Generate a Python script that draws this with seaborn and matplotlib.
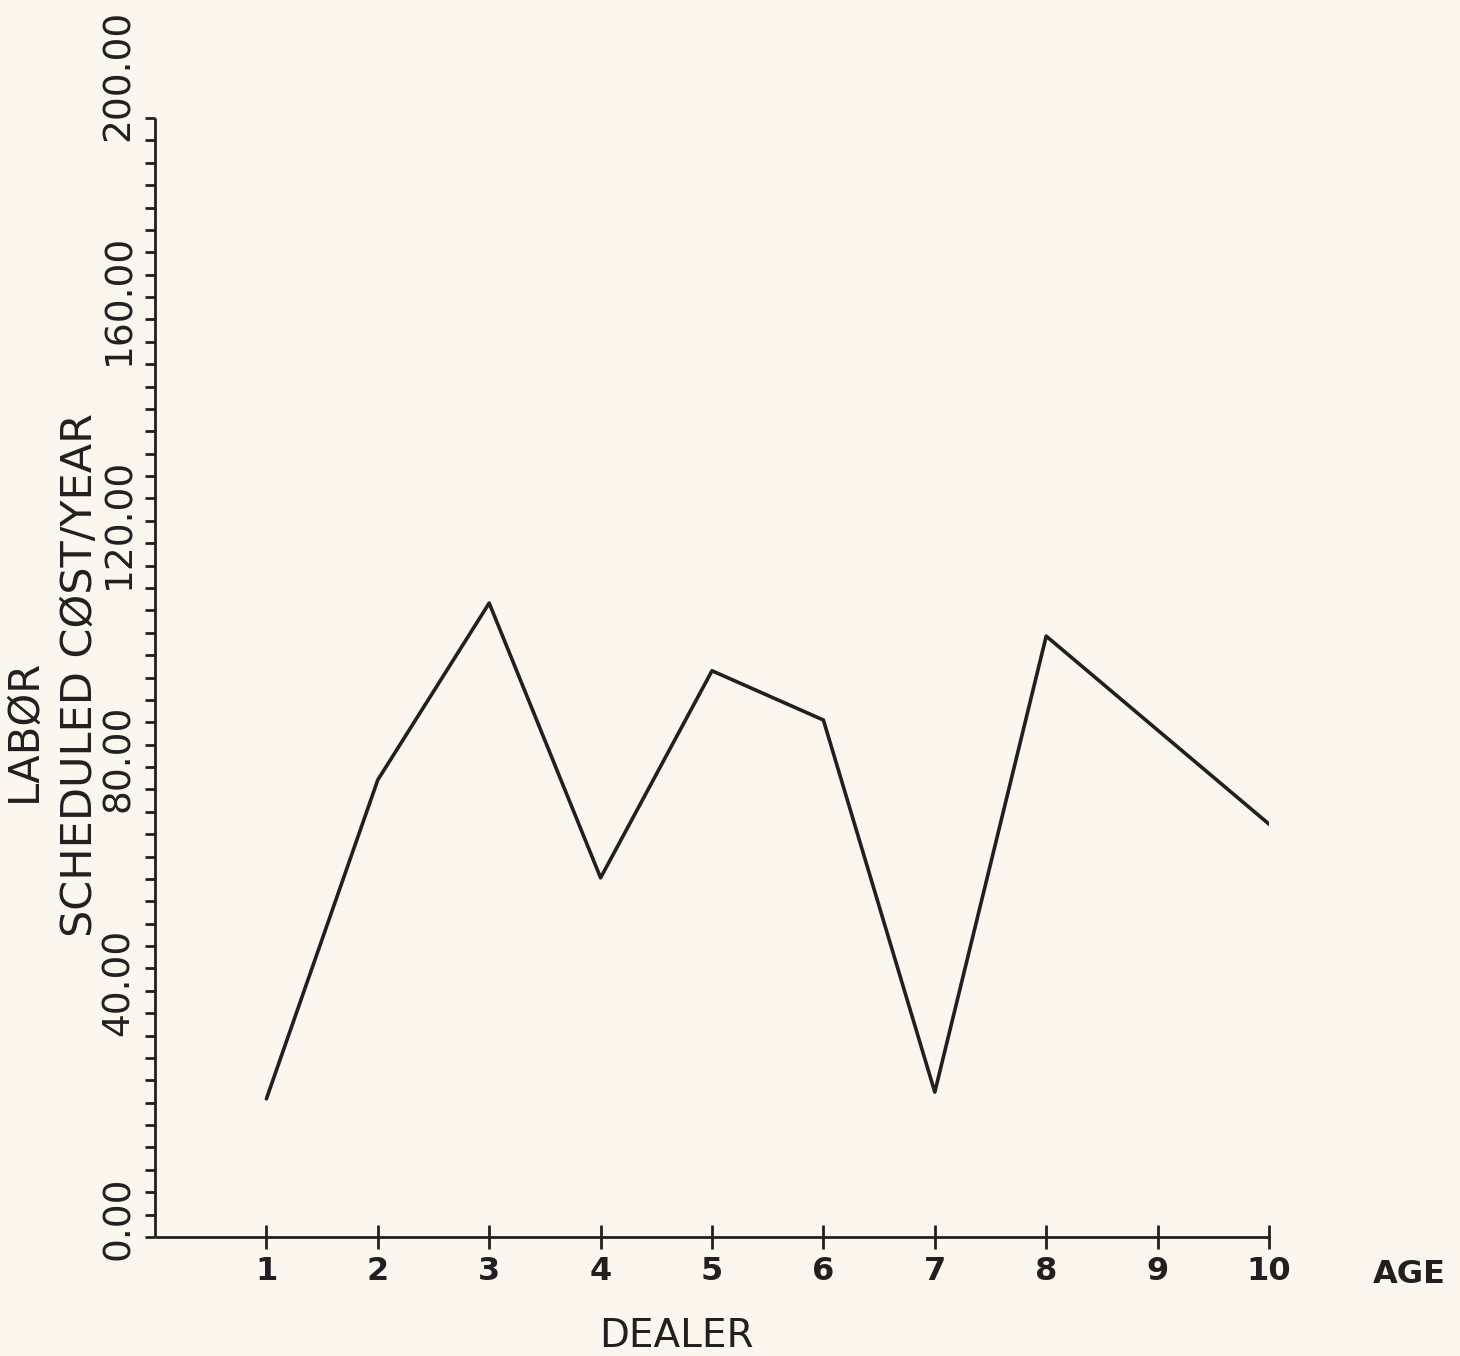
import matplotlib
matplotlib.use("Agg")
import matplotlib.pyplot as plt
import matplotlib.transforms as mtransforms
import seaborn as sns
import numpy as np

# ---- data ----
ages = [1, 2, 3, 4, 5, 6, 7, 8, 9, 10]
cost = [24.7, 81.7, 113.3, 64.2, 101.2, 92.4, 25.9, 107.4, 90.6, 73.8]
x_tick_labels = ["1", "2", "3", "4", "5", "6", "7", "8", "9", "10"]
y_major = [0, 40, 80, 120, 160, 200]
y_tick_labels = ["0.00", "40.00", "80.00", "120.00", "160.00", "200.00"]
y_minor = list(range(0, 201, 4))

BG = "#fbf6ee"
INK = "#231f20"

sns.set_theme(style="ticks")
plt.rcParams["font.family"] = ["DejaVu Sans"]
plt.rcParams["text.color"] = INK
plt.rcParams["axes.edgecolor"] = INK
plt.rcParams["xtick.color"] = INK
plt.rcParams["ytick.color"] = INK

W, H = 1460, 1356
fig = plt.figure(figsize=(W / 100, H / 100), dpi=100, facecolor=BG)
x0, x1, ytop, ybot = 155, 1269, 118, 1237
ax = fig.add_axes([x0 / W, (H - ybot) / H, (x1 - x0) / W, (ybot - ytop) / H])
ax.set_facecolor(BG)

sns.lineplot(x=ages, y=cost, ax=ax, color=INK, linewidth=2.6, estimator=None)

ax.set_xlim(0, 10)
ax.set_ylim(0, 200)
for s in ["top", "right"]:
    ax.spines[s].set_visible(False)
for s in ["left", "bottom"]:
    ax.spines[s].set_linewidth(2.0)
    ax.spines[s].set_capstyle("butt")

# x axis
ax.set_xticks(ages)
ax.set_xticklabels(x_tick_labels)
ax.tick_params(axis="x", direction="inout", length=17, width=2.0, pad=5,
               labelsize=23)
for lab in ax.get_xticklabels():
    lab.set_fontweight("bold")

# y axis
ax.set_yticks(y_major)
ax.set_yticks(y_minor, minor=True)
ax.tick_params(axis="y", which="both", direction="out", length=7.5, width=2.0,
               labelleft=False)

off = mtransforms.ScaledTranslation(-18 / 100, -23 / 100, fig.dpi_scale_trans)
btrans = mtransforms.blended_transform_factory(ax.transAxes, ax.transData)
for v, lab in zip(y_major, y_tick_labels):
    ax.text(0, v, lab, transform=btrans + off, rotation=90, ha="right",
            va="bottom", fontsize=27, color=INK, clip_on=False)

# axis labels
ax.set_ylabel("SCHEDULED CØST/YEAR", fontsize=31, va="center", color=INK)
ax.yaxis.set_label_coords((80 - x0) / (x1 - x0), (ybot - 675) / (ybot - ytop))
ax.text((24 - x0) / (x1 - x0), (ybot - 730) / (ybot - ytop), "LABØR",
        transform=ax.transAxes, rotation=90, ha="center", va="center",
        fontsize=30, color=INK, clip_on=False)

ax.set_xlabel("DEALER", fontsize=28, va="baseline", color=INK)
ax.xaxis.set_label_coords((676 - x0) / (x1 - x0), (ybot - 1347) / (ybot - ytop))

ax.text((1409 - x0) / (x1 - x0), (ybot - 1283) / (ybot - ytop), "AGE",
        transform=ax.transAxes, ha="center", va="baseline", fontsize=23,
        fontweight="bold", color=INK, clip_on=False)

fig.savefig("out.png", dpi=100, facecolor=BG)
